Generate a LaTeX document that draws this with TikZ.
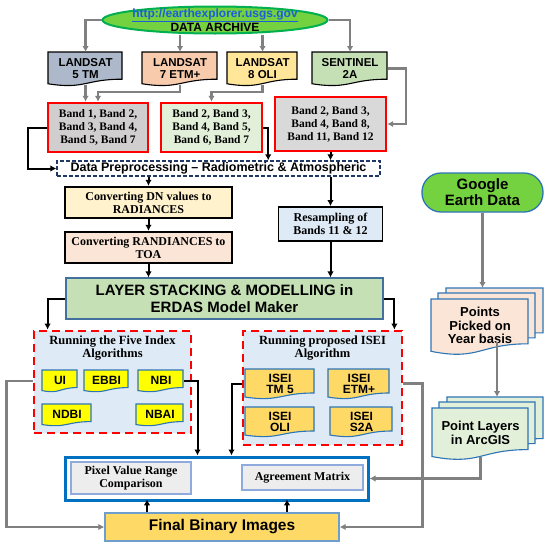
\documentclass[tikz,border=0pt]{standalone}
\usepackage{fontspec}
\setmainfont{Liberation Serif}
\setsansfont{Liberation Sans}
\usetikzlibrary{calc,arrows.meta,shapes.geometric}

\definecolor{archivegreen}{HTML}{74D13F}
\definecolor{archiveline}{HTML}{00B050}
\definecolor{urlblue}{HTML}{1B5FD9}
\definecolor{tmcol}{HTML}{ADB9CA}
\definecolor{etmcol}{HTML}{F8CBAD}
\definecolor{olicol}{HTML}{FFE699}
\definecolor{s2col}{HTML}{C5E0B4}
\definecolor{bandgray}{HTML}{D0CECE}
\definecolor{bandgreen}{HTML}{E2F0D9}
\definecolor{bandlight}{HTML}{D9D9D9}
\definecolor{dpblue}{HTML}{203864}
\definecolor{dncol}{HTML}{FFF2CC}
\definecolor{toacol}{HTML}{FBE5D6}
\definecolor{skyblue}{HTML}{DEEBF7}
\definecolor{stackline}{HTML}{41719C}
\definecolor{docline}{HTML}{2E75B6}
\definecolor{indexyellow}{HTML}{FFFF00}
\definecolor{iseigold}{HTML}{FFD966}
\definecolor{compblue}{HTML}{0070C0}
\definecolor{cellgray}{HTML}{EDEDED}
\definecolor{cellline}{HTML}{8FAADC}
\definecolor{arrowgray}{HTML}{808080}

\tikzset{
  archive/.style={ellipse, draw=archiveline, line width=2pt, fill=archivegreen,
    minimum width=225, minimum height=27, inner xsep=-30pt, inner ysep=-8pt,
    align=center, font=\sffamily\bfseries\fontsize{12}{11}\selectfont},
  landdoc/.style={draw=black, line width=1.1pt, font=\sffamily\bfseries\fontsize{11.5}{12.5}\selectfont},
  indexdoc/.style={fill=indexyellow, draw=docline, line width=1.1pt, font=\sffamily\bfseries\fontsize{12}{13}\selectfont},
  iseidoc/.style={fill=iseigold, draw=docline, line width=1.1pt, font=\sffamily\bfseries\fontsize{12}{11}\selectfont},
  stackdoc/.style={draw=docline, line width=1.1pt, font=\sffamily\bfseries\fontsize{13}{13.5}\selectfont},
  bandbox/.style={rectangle, draw=red, line width=2.4pt, inner sep=0pt, align=center,
    font=\rmfamily\bfseries\fontsize{11.5}{13}\selectfont},
  prepbox/.style={rectangle, draw=dpblue, line width=1.3pt, dash pattern=on 4pt off 2pt, fill=white, inner sep=0pt,
    font=\sffamily\bfseries\fontsize{12.5}{13}\selectfont},
  stepbox/.style={rectangle, draw=black, line width=2.4pt, inner sep=0pt, align=center,
    font=\rmfamily\bfseries\fontsize{12}{13}\selectfont},
  layerbox/.style={rectangle, draw=stackline, line width=1.2pt, fill=s2col, inner sep=0pt, align=center,
    font=\sffamily\bfseries\fontsize{15}{17}\selectfont},
  algobox/.style={rectangle, draw=red, line width=2.8pt, dash pattern=on 8pt off 5pt, fill=skyblue, inner sep=0pt},
  algotitle/.style={align=center, inner sep=0pt, font=\rmfamily\bfseries\fontsize{12.5}{13}\selectfont},
  compbox/.style={rectangle, draw=compblue, line width=3pt, fill=white, inner sep=0pt},
  cellbox/.style={rectangle, draw=cellline, line width=1.4pt, fill=cellgray, inner sep=0pt, align=center,
    font=\rmfamily\bfseries\fontsize{12}{13}\selectfont},
  finalbox/.style={rectangle, draw=docline!70, line width=1.3pt, fill=iseigold, inner sep=0pt,
    font=\sffamily\bfseries\fontsize{15.5}{17}\selectfont},
  googlebox/.style={rectangle, rounded corners=19pt, draw=docline, line width=1.3pt, fill=archivegreen,
    inner sep=0pt, align=center, font=\sffamily\bfseries\fontsize{15}{16}\selectfont},
  garrow/.style={draw=arrowgray, line width=2.4pt, -{Latex[length=6pt,width=6.5pt]}},
  barrow/.style={draw=black, line width=2pt, -{Latex[length=6pt,width=6.5pt]}},
}

% document shape: x, y (top left), width, height, style
\newcommand{\docshape}[5]{%
  \filldraw[#5] ({#1},{#2}) -- ({#1+#3},{#2}) -- ({#1+#3},{#2+0.80*#4})
    .. controls ({#1+#3/2},{#2+0.80*#4}) and ({#1+#3/2},{#2+1.107*#4}) ..
    ({#1},{#2+0.934*#4}) -- cycle;
}
% document with named text node: name, x, y, width, height, style, text
\newcommand{\docbox}[7]{%
  \docshape{#2}{#3}{#4}{#5}{#6}
  \node[#6, fill=none, draw=none, anchor=north west, minimum width=#4, minimum height=0.93*#5,
    inner sep=0pt, align=center] (#1) at ({#2},{#3}) {#7};
}
% three stacked documents
\newcommand{\docstack}[7]{%
  \docshape{#2+15}{#3-11}{#4}{#5}{#6}
  \docshape{#2+7}{#3-6}{#4}{#5}{#6}
  \docbox{#1}{#2}{#3}{#4}{#5}{#6}{#7}
  \coordinate (#1top) at ({#2+15+#4/2},{#3-11});
}

\begin{document}
\begin{tikzpicture}[x=1pt, y=-1pt]
  \useasboundingbox (0,0) rectangle (550,544);
  % data archive and sensors
  \node[archive] (archive) at (215,20)
    {{\color{urlblue}\underline{http://earthexplorer.usgs.gov}}\\DATA ARCHIVE};
  \docbox{ls5}{48}{52}{74}{34}{landdoc,fill=tmcol}{LANDSAT\\5 TM}
  \docbox{ls7}{142}{52}{75}{34}{landdoc,fill=etmcol}{LANDSAT\\7 ETM+}
  \docbox{ls8}{227}{52}{70}{34}{landdoc,fill=olicol}{LANDSAT\\8 OLI}
  \docbox{s2a}{312}{52}{75}{34}{landdoc,fill=s2col}{SENTINEL\\2A}

  % band sets
  \node[bandbox, fill=bandgray, minimum width=100, minimum height=49] (bandA) at (98,127.5)
    {Band 1, Band 2,\\Band 3, Band 4,\\Band 5, Band 7};
  \node[bandbox, fill=bandgreen, minimum width=101, minimum height=49] (bandB) at (211.5,127.5)
    {Band 2, Band 3,\\Band 4, Band 5,\\Band 6, Band 7};
  \node[bandbox, fill=bandlight, minimum width=111, minimum height=54] (bandC) at (330.5,124)
    {Band 2, Band 3,\\Band 4, Band 8,\\Band 11, Band 12};

  % preprocessing chain
  \node[prepbox, minimum width=323, minimum height=15] (dp) at (218.5,168.5)
    {Data Preprocessing -- Radiometric \& Atmospheric};
  \node[stepbox, fill=dncol, minimum width=167, minimum height=31] (convDN) at (148.5,202.5)
    {Converting DN values to\\RADIANCES};
  \node[stepbox, fill=toacol, minimum width=167, minimum height=31] (convTOA) at (148.5,247.5)
    {Converting RANDIANCES to\\TOA};
  \node[stepbox, fill=skyblue, line width=1.8pt, minimum width=104, minimum height=34] (resamp) at (330.5,224)
    {Resampling of\\Bands 11 \& 12};
  \node[layerbox, minimum width=317, minimum height=41] (layer) at (224.5,298.5)
    {LAYER STACKING \& MODELLING in\\ERDAS Model Maker};

  % index algorithms
  \node[algobox, minimum width=157, minimum height=102] (lbox) at (112.5,382) {};
  \node[algotitle] (ltitle) at (112.5,348.5) {Running the Five Index\\Algorithms};
  \docbox{ui}{42}{370}{35}{22}{indexdoc}{UI}
  \docbox{ebbi}{84}{370}{44}{22}{indexdoc}{EBBI}
  \docbox{nbi}{138}{370}{45}{22}{indexdoc}{NBI}
  \docbox{ndbi}{42}{404}{49}{22}{indexdoc}{NDBI}
  \docbox{nbai}{136}{404}{47}{22}{indexdoc}{NBAI}

  \node[algobox, minimum width=159, minimum height=114] (rbox) at (322.5,388) {};
  \node[algotitle] (rtitle) at (322.5,348.5) {Running proposed ISEI\\Algorithm};
  \docbox{tm5}{245}{369}{69}{30}{iseidoc}{ISEI\\TM 5}
  \docbox{etm}{328}{369}{61}{30}{iseidoc}{ISEI\\ETM+}
  \docbox{oli}{245}{407}{69}{30}{iseidoc}{ISEI\\OLI}
  \docbox{stwo}{330}{407}{62}{30}{iseidoc}{ISEI\\S2A}

  % validation
  \node[compbox, minimum width=303, minimum height=43] (comp) at (216.5,478.5) {};
  \node[cellbox, minimum width=120, minimum height=32] (pixel) at (131,478) {Pixel Value Range\\Comparison};
  \node[cellbox, minimum width=121, minimum height=25] (agree) at (302.5,477.5) {Agreement Matrix};
  \node[finalbox, minimum width=234, minimum height=28] (final) at (222,527) {Final Binary Images};

  % reference points
  \node[googlebox, minimum width=121, minimum height=39] (google) at (482.5,192.5) {Google\\Earth Data};
  \docstack{points}{431}{299}{97}{56}{stackdoc,fill=toacol}{Points\\Picked on\\Year basis}
  \docstack{players}{432}{408}{96}{52}{stackdoc,fill=bandgreen}{Point Layers\\in ArcGIS}

  % connectors
  \coordinate (bbr) at ($(bandB.east)+(5,0)$);
  \coordinate (pp) at ($(points.south)+(17,-10)$);
  \draw[garrow] (archive.west) -| (ls5.north);
  \draw[garrow] (ls7.north |- archive.south) -- (ls7.north);
  \draw[garrow] (ls8.north |- archive.south) -- (ls8.north);
  \draw[garrow] (archive.east) -| (s2a.north);
  \draw[garrow] (ls5.south) -- (ls5.south |- bandA.north);
  \draw[garrow] (ls7.south) |- ($(bandA.north)+(0,-10)$) -- (bandA.north);
  \draw[garrow] (ls8.south) |- ($(bandB.north)+(0,-10)$) -- (bandB.north);
  \draw[garrow] (s2a.east) -- ++(18,0) |- (bandC.east);
  \draw[barrow] (bandA.west) -- ++(-19,0) |- (dp.west);
  \draw[barrow] (bandB.east) -- (bbr) -- (bbr |- dp.north);
  \draw[barrow] (bandC.south) -- (bandC.south |- dp.north);
  \draw[barrow] (convDN.north |- dp.south) -- (convDN.north);
  \draw[barrow] (bandC.south |- dp.south) -- (resamp.north);
  \draw[barrow] (convDN.south) -- (convTOA.north);
  \draw[barrow] (convTOA.south) -- (convTOA.south |- layer.north);
  \draw[barrow] (resamp.south) -- (resamp.south |- layer.north);
  \draw[barrow] (layer.west) -| ($(lbox.north west)+(15,0)$);
  \draw[barrow] (layer.east) -| ($(rbox.north east)+(-9,0)$);
  \draw[barrow] (nbi.east) -| ($(comp.north west)+(134,0)$);
  \draw[barrow] (tm5.west -| rbox.west) -| ($(comp.north west)+(168,0)$);
  \draw[barrow] ($(final.north)+(-75,0)$) -- ++(0,-13);
  \draw[barrow] ($(final.north)+(65,0)$) -- ++(0,-13);
  \draw[garrow] (ui.west -| lbox.west) -- ++(-26,0) |- (final.west);
  \draw[garrow] (etm.east -| rbox.east) -- ++(19,0) |- (final.east);
  \draw[garrow] (google.south) -- (google.south |- pointstop);
  \draw[garrow] (pp) -- (pp |- playerstop);
  \draw[garrow] (players.south) |- (comp.east);
\end{tikzpicture}
\end{document}
